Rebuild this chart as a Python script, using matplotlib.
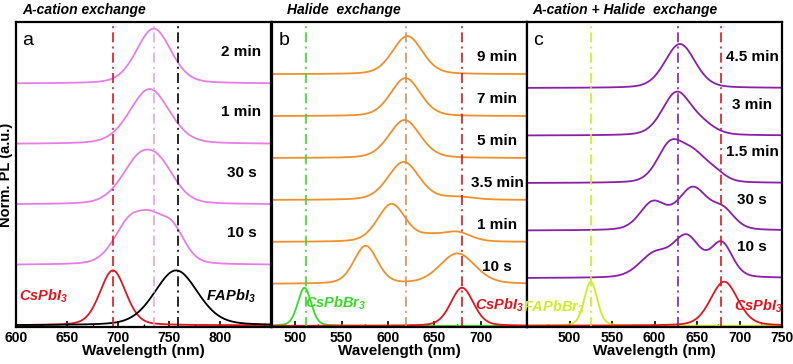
import numpy as np
import matplotlib
matplotlib.use("Agg")
from matplotlib import pyplot as plt

plt.rcParams['font.family'] = ['Liberation Sans', 'DejaVu Sans']
plt.rcParams['mathtext.fontset'] = 'custom'
plt.rcParams['mathtext.bfit'] = 'Liberation Sans:italic:bold'
plt.rcParams['mathtext.default'] = 'bfit'

# %% data: each spectrum is a list of (centre nm, fwhm nm, height)
a_range = (600, 850)
a_ref_names = ['CsPbI$_3$', 'FAPbI$_3$']
a_ref_peaks = [[(695, 30, 1.0)], [(757, 50, 1.0)]]
a_times = ['10 s', '30 s', '1 min', '2 min']
a_peaks = [[(711, 36, 0.85), (732, 30, 0.62), (753, 30, 0.72)],
           [(720, 42, 0.72), (742, 38, 0.52)],
           [(731, 46, 1.0)],
           [(735, 40, 1.0)]]
a_vlines = [695, 735, 759]

b_range = (475, 750)
b_ref_names = ['CsPbBr$_3$', 'CsPbI$_3$']
b_ref_peaks = [[(510, 17, 1.0)], [(680, 29, 1.0)]]
b_times = ['10 s', '1 min', '3.5 min', '5 min', '7 min', '9 min']
b_peaks = [[(576, 30, 0.97), (675, 45, 0.78)],
           [(604, 36, 0.96), (645, 30, 0.12), (674, 36, 0.24)],
           [(617, 40, 1.0), (675, 40, 0.07)],
           [(618, 40, 1.0)],
           [(619, 38, 1.0)],
           [(621, 38, 1.0)]]
b_vlines = [512, 620, 680]

c_range = (450, 750)
c_ref_names = ['FAPbBr$_3$', 'CsPbI$_3$']
c_ref_peaks = [[(525, 18, 1.0)], [(682, 38, 1.0)]]
c_times = ['10 s', '30 s', '1.5 min', '3 min', '4.5 min']
c_peaks = [[(600, 42, 0.45), (638, 38, 0.78), (679, 30, 0.66)],
           [(598, 36, 0.55), (645, 42, 0.85), (681, 32, 0.36)],
           [(618, 36, 0.8), (646, 40, 0.6), (672, 30, 0.14)],
           [(626, 40, 1.0), (657, 36, 0.2)],
           [(630, 42, 1.0)]]
c_vlines = [525, 628, 678]

# %% styles
red = '#e2141e'
dd = (0, (6, 2.5, 1.2, 2.5))


def spectrum(x, peaks, eta=0.25):
    y = np.zeros_like(x)
    for c, f, h in peaks:
        g = np.exp(-4 * np.log(2) * ((x - c) / f) ** 2)
        l = 1 / (1 + 4 * ((x - c) / f) ** 2)
        y += h * (eta * l + (1 - eta) * g)
    return y / y.max()


def panel(ax, xr, step, top, ref_peaks, ref_cols, peaks, col, vlines, vcols,
          times, tx, ty, ref_names, ref_pos):
    x = np.linspace(xr[0], xr[1], 800)
    for p, c in zip(ref_peaks, ref_cols):
        ax.plot(x, spectrum(x, p), color=c, lw=1.3)
    for i, p in enumerate(peaks):
        off = (i + 1) * step
        ax.plot(x, spectrum(x, p) + off, color=col, lw=1.3)
        ax.text(tx, off + ty, times[i], ha='center', va='center',
                fontsize=11, fontweight='bold')
    for v, c in zip(vlines, vcols):
        ax.axvline(v, color=c, lw=1.2, ls=dd)
    for name, c, (px, py) in zip(ref_names, ref_cols, ref_pos):
        ax.text(px, py, name, color=c, ha='center', va='center',
                fontsize=10.5, fontweight='bold', fontstyle='italic')
    ax.set_xlim(*xr)
    ax.set_ylim(-0.03, top)
    ax.set_yticks([])
    ax.set_xlabel('Wavelength (nm)', fontsize=11, fontweight='bold', labelpad=-1)
    for s in ax.spines.values():
        s.set_linewidth(1.6)
    ax.tick_params(axis='x', direction='in', length=4, width=1.2, pad=3,
                   labelsize=10)
    ax.tick_params(axis='x', which='minor', direction='in', length=2, width=1)
    for t in ax.get_xticklabels():
        t.set_fontweight('bold')


fig = plt.figure(figsize=(7.93, 3.64), dpi=100)
H = 305 / 364
B = 37 / 364
ax1 = fig.add_axes([16 / 793, B, 255 / 793, H])
ax2 = fig.add_axes([272 / 793, B, 255 / 793, H])
ax3 = fig.add_axes([527 / 793, B, 255 / 793, H])

ax1.set_xticks([600, 650, 700, 750, 800])
ax1.set_xticks(np.arange(600, 851, 25), minor=True)
panel(ax1, a_range, 1.1, 5.52, a_ref_peaks, [red, 'black'], a_peaks, '#e87de8',
      a_vlines, [red, '#e6a6e6', 'black'], a_times, 821, 0.58,
      a_ref_names, [(627, 0.53), (811, 0.53)])

ax2.set_xticks([500, 550, 600, 650, 700])
ax2.set_xticks(np.arange(475, 751, 25), minor=True)
panel(ax2, b_range, 1.1, 7.97, b_ref_peaks, ['#33dd22', red], b_peaks, '#f0902a',
      b_vlines, ['#33dd22', '#d8905a', red], b_times, 718, 0.45,
      b_ref_names, [(544, 0.6), (720, 0.55)])

ax3.set_xticks([500, 550, 600, 650, 700, 750])
ax3.set_xticks(np.arange(450, 751, 25), minor=True)
panel(ax3, c_range, 1.08, 6.9, c_ref_peaks, ['#ccee22', red], c_peaks, '#8a1fa8',
      c_vlines, ['#ccee22', '#8a1fa8', red], c_times, 715, 0.7,
      c_ref_names, [(482, 0.41), (722, 0.45)])

ax1.set_ylabel('Norm. PL (a.u.)', fontsize=10.5, fontweight='bold', labelpad=2)

for ax, letter in zip([ax1, ax2, ax3], ['a', 'b', 'c']):
    ax.text(0.025, 0.94, letter, transform=ax.transAxes, fontsize=14,
            va='center', ha='left')

for xpos, title in [(22, 'A-cation exchange'), (287, 'Halide  exchange'),
                    (532, 'A-cation + Halide  exchange')]:
    fig.text(xpos / 793, 1 - 10 / 364, title, fontsize=10, fontweight='bold',
             fontstyle='italic', va='center', ha='left')

fig.savefig('out.png', dpi=100)
